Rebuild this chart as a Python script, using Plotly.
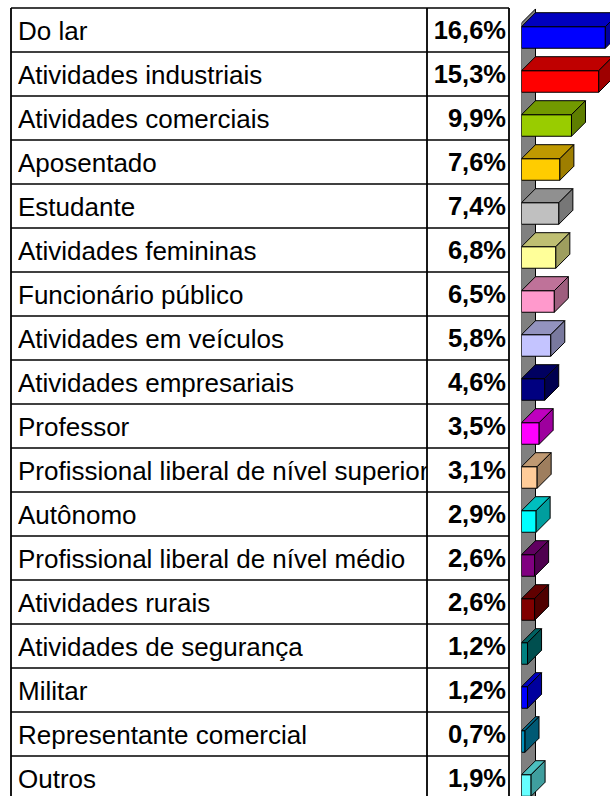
import plotly.graph_objects as go

# ---------------- data ----------------
categories = [
    "Do lar", "Atividades industriais", "Atividades comerciais", "Aposentado",
    "Estudante", "Atividades femininas", "Funcionário público",
    "Atividades em veículos", "Atividades empresariais", "Professor",
    "Profissional liberal de nível superior", "Autônomo",
    "Profissional liberal de nível médio", "Atividades rurais",
    "Atividades de segurança", "Militar", "Representante comercial", "Outros",
]
values = [16.6, 15.3, 9.9, 7.6, 7.4, 6.8, 6.5, 5.8, 4.6, 3.5, 3.1, 2.9,
          2.6, 2.6, 1.2, 1.2, 0.7, 1.9]
value_labels = [f"{v:.1f}%".replace(".", ",") for v in values]
colors = [
    "#0000FF", "#FF0000", "#99CC00", "#FFCC00", "#C0C0C0", "#FFFF99",
    "#FF99CC", "#C4C4FF", "#000080", "#FF00FF", "#FFCC99", "#00FFFF",
    "#800080", "#800000", "#008080", "#0000FF", "#0090BC", "#66FFFF",
]

# ---------------- geometry ----------------
W, H = 610, 796
TOP, ROW = 8, 44
y_top = -0.5 - TOP / ROW
y_bot = y_top + H / ROW
TABLE_L, COL_DIV, TABLE_R = 11, 427, 509
BAR_X0 = 521.5
PX_PER = 5.05
DX = 14 / PX_PER          # depth in value units
DY = 14 / ROW             # depth in row units
F_OFF, F_W = -0.075, 0.49  # front face position within row
TEXT_SHIFT = 3 / ROW       # text baseline nudge


def shade(hexc, f):
    hexc = hexc.lstrip("#")
    r, g, b = (int(hexc[i:i + 2], 16) for i in (0, 2, 4))
    return "#%02X%02X%02X" % (int(r * f), int(g * f), int(b * f))


n = len(categories)
idx = list(range(n))
text_y = [i + TEXT_SHIFT for i in idx]

fig = go.Figure()

# front faces
fig.add_trace(go.Bar(
    x=values, y=idx, orientation="h", width=F_W, offset=F_OFF,
    marker=dict(color=colors, line=dict(color="#000000", width=1)),
    xaxis="x3", yaxis="y", showlegend=False, hoverinfo="skip"))

# top and side faces
for i, (v, c) in enumerate(zip(values, colors)):
    y0 = i + F_OFF
    y1 = y0 + F_W
    fig.add_trace(go.Scatter(
        x=[0, v, v + DX, DX, 0], y=[y0, y0, y0 - DY, y0 - DY, y0],
        fill="toself", fillcolor=shade(c, 0.75), mode="lines",
        line=dict(color="#000000", width=1), xaxis="x3", yaxis="y",
        hoverinfo="skip", showlegend=False))
    fig.add_trace(go.Scatter(
        x=[v, v + DX, v + DX, v, v], y=[y0, y0 - DY, y1 - DY, y1, y0],
        fill="toself", fillcolor=shade(c, 0.62), mode="lines",
        line=dict(color="#000000", width=1), xaxis="x3", yaxis="y",
        hoverinfo="skip", showlegend=False))

# category labels (clipped at the column divider)
fig.add_trace(go.Scatter(
    x=[0] * n, y=text_y, mode="text", text=categories,
    textposition="middle right", cliponaxis=True,
    textfont=dict(family="Liberation Sans, Arial", size=26, color="#000000"),
    xaxis="x2", yaxis="y", hoverinfo="skip", showlegend=False))

# percentage column
fig.add_trace(go.Scatter(
    x=[506] * n, y=text_y, mode="text", text=value_labels,
    textposition="middle left", cliponaxis=False,
    textfont=dict(family="Liberation Sans, Arial", size=25.5, color="#000000",
                  weight="bold"),
    xaxis="x", yaxis="y", hoverinfo="skip", showlegend=False))

shapes = []
# back wall of the 3D bar area (below the bars)
wall_top = F_OFF - 0.085
shapes.append(dict(
    type="path", xref="x3", yref="y", layer="below",
    path=(f"M 0 {wall_top} L {DX} {wall_top - DY} L {DX} {y_bot + 1} "
          f"L 0 {y_bot + 1} Z"),
    fillcolor="#808080", line=dict(color="#000000", width=1)))

# table grid
for k in range(n + 1):
    yy = -0.5 + k
    shapes.append(dict(type="line", xref="x", yref="y", x0=TABLE_L, x1=TABLE_R,
                       y0=yy, y1=yy, line=dict(color="#000000", width=1.6)))
for xx in (TABLE_L, COL_DIV, TABLE_R):
    shapes.append(dict(type="line", xref="x", yref="y", x0=xx, x1=xx,
                       y0=-0.5, y1=y_bot + 1, line=dict(color="#000000", width=1.8)))

hidden = dict(visible=False, showgrid=False, zeroline=False, fixedrange=True)
fig.update_layout(
    width=W, height=H,
    margin=dict(l=0, r=0, t=0, b=0),
    paper_bgcolor="#FFFFFF", plot_bgcolor="rgba(0,0,0,0)",
    xaxis=dict(domain=[0, 1], range=[0, W], **hidden),
    xaxis2=dict(domain=[18 / W, COL_DIV / W], range=[0, 1], anchor="y", **hidden),
    xaxis3=dict(domain=[BAR_X0 / W, 1], range=[0, (W - BAR_X0) / PX_PER],
                anchor="y", **hidden),
    yaxis=dict(domain=[0, 1], range=[y_bot, y_top], **hidden),
    shapes=shapes,
    barmode="overlay",
)

fig.write_html("out.html",
               config={"displayModeBar": False, "staticPlot": True},
               post_script="document.body.style.margin='0';"
                           "document.body.style.overflow='hidden';")
